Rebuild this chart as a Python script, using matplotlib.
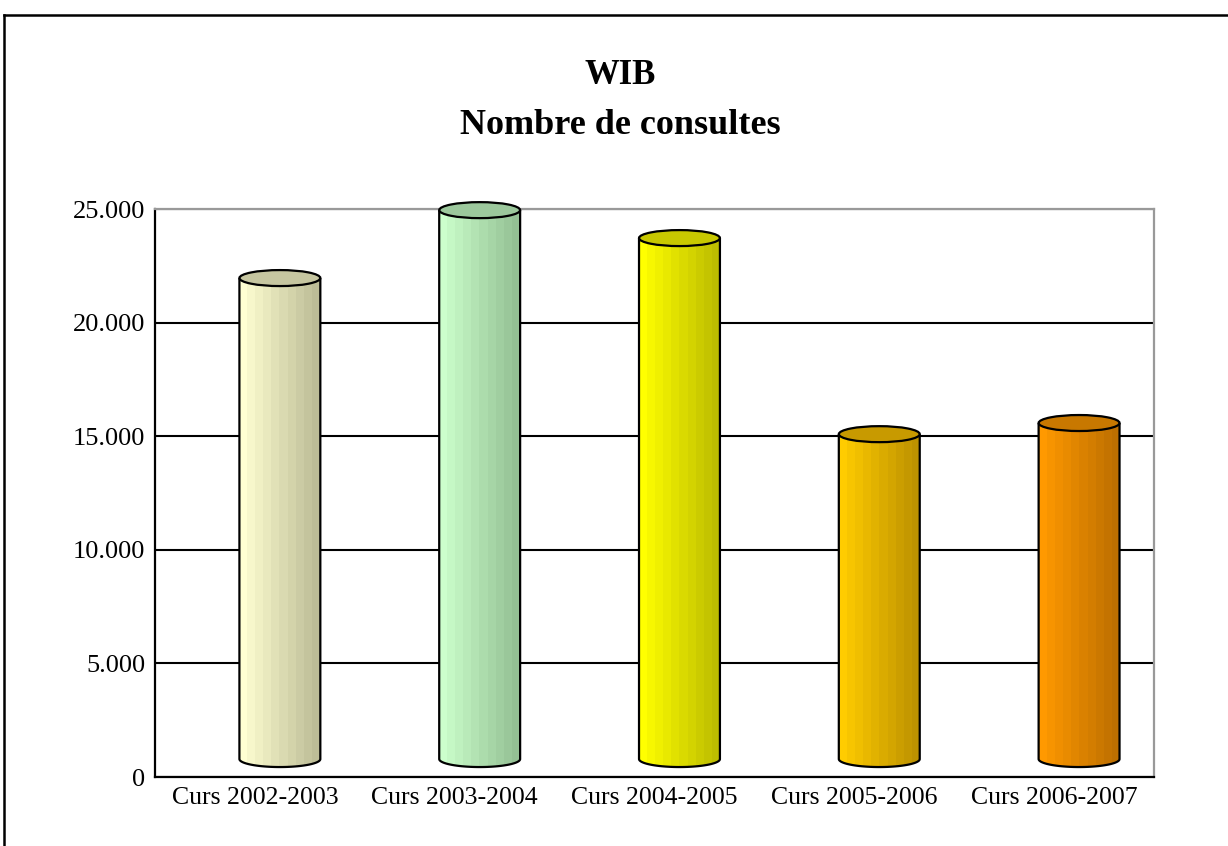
import numpy as np
import matplotlib.pyplot as plt
from matplotlib.patches import Ellipse, PathPatch
from matplotlib.path import Path
from matplotlib.lines import Line2D
from matplotlib.colors import to_rgb

plt.rcParams['font.family'] = ['Liberation Serif', 'DejaVu Serif']

categories = ["Curs 2002-2003", "Curs 2003-2004", "Curs 2004-2005",
              "Curs 2005-2006", "Curs 2006-2007"]
values = [21170, 24160, 22930, 14300, 14790]
light_colors = ["#FFFFD2", "#CCFFCC", "#FFFF00", "#FFCC00", "#FF9900"]
dark_colors = ["#BDBD97", "#94C094", "#BDBD00", "#BD9200", "#BD6F00"]
top_colors = ["#C6C6A0", "#9CC89C", "#C8C800", "#C89A00", "#C87800"]
yticks = [0, 5000, 10000, 15000, 20000, 25000]
ytick_labels = ["0", "5.000", "10.000", "15.000", "20.000", "25.000"]

W, H = 1228, 846
fig = plt.figure(figsize=(W / 100, H / 100), dpi=100)
ax = fig.add_axes([155 / W, 1 - 777 / H, 999 / W, 568 / H])

# 3D look: cylinders shifted right and lifted a bit
shift = 0.125
half_w = 0.2025
ell_h = 352      # half height of ellipse in data units
base = 790
nbands = 10

for i, v in enumerate(values):
    cx = i + shift
    x0, x1 = cx - half_w, cx + half_w
    top = base + v
    t = np.linspace(np.pi, 2 * np.pi, 60)
    ex = cx + half_w * np.cos(t)
    ey = base + ell_h * np.sin(t)
    verts = [(x0, top)] + list(zip(ex, ey)) + [(x1, top), (x0, top)]
    codes = [Path.MOVETO] + [Path.LINETO] * (len(verts) - 2) + [Path.CLOSEPOLY]
    clip = PathPatch(Path(verts, codes), facecolor="none", edgecolor="none")
    ax.add_patch(clip)

    c0 = np.array(to_rgb(light_colors[i]))
    c1 = np.array(to_rgb(dark_colors[i]))
    frac = np.linspace(0, 1, nbands)
    grad = (c0[None, :] * (1 - frac[:, None]) + c1[None, :] * frac[:, None])[None, :, :]
    im = ax.imshow(grad, extent=[x0, x1, base - ell_h, top], aspect="auto",
                   interpolation="nearest", zorder=3)
    im.set_clip_path(clip)

    outline = [(x0, top)] + list(zip(ex, ey)) + [(x1, top)]
    ax.add_patch(PathPatch(Path(outline), facecolor="none", edgecolor="black",
                           lw=1.6, zorder=4, clip_on=False))
    ax.add_patch(Ellipse((cx, top), 2 * half_w, 2 * ell_h, facecolor=top_colors[i],
                         edgecolor="black", lw=1.6, zorder=5, clip_on=False))

ax.set_xlim(-0.5, 4.5)
ax.set_ylim(0, 25000)
ax.set_xticks(range(len(categories)))
ax.set_xticklabels(categories, fontsize=18.5)
ax.set_yticks(yticks)
ax.set_yticklabels(ytick_labels, fontsize=19)
ax.tick_params(length=0, pad=7)
ax.yaxis.grid(True, color="black", lw=1.5, zorder=1)
ax.set_axisbelow(True)
for s in ["left", "bottom"]:
    ax.spines[s].set_color("black")
    ax.spines[s].set_linewidth(1.6)
for s in ["top", "right"]:
    ax.spines[s].set_color("#999999")
    ax.spines[s].set_linewidth(1.6)

fig.text(0.505, 1 - 75 / H, "WIB", ha="center", va="center",
         fontsize=25, fontweight="bold")
fig.text(0.505, 1 - 125 / H, "Nombre de consultes", ha="center", va="center",
         fontsize=26, fontweight="bold")

# frame around the figure (cut off at right and bottom)
fig.add_artist(Line2D([4 / W, 1], [1 - 15 / H, 1 - 15 / H], color="black", lw=1.8,
                      transform=fig.transFigure))
fig.add_artist(Line2D([4 / W, 4 / W], [0, 1 - 15 / H], color="black", lw=1.8,
                      transform=fig.transFigure))

fig.savefig("out.png", dpi=100)
